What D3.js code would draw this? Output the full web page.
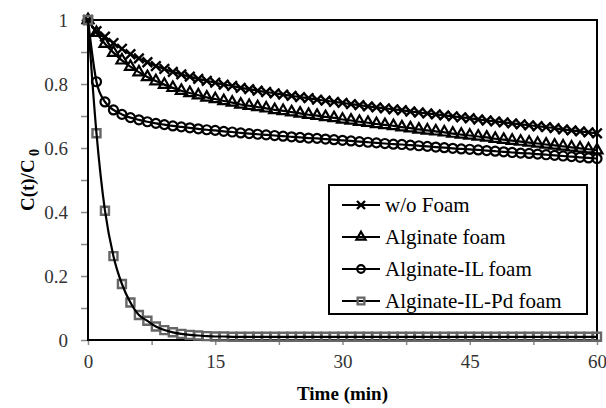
<!DOCTYPE html>
<html>
<head>
<meta charset="utf-8">
<script src="https://cdn.jsdelivr.net/npm/d3@7"></script>
<style>
  body { margin: 0; background: #fff; }
  svg { display: block; }
</style>
</head>
<body>
<div class="chart"></div>
<script>
// time in minutes, one reading per minute
var time = d3.range(0, 61);

var seriesNames = ["w/o Foam", "Alginate foam", "Alginate-IL foam", "Alginate-IL-Pd foam"];

var woFoam = [1.000, 0.965, 0.948, 0.928, 0.910, 0.893, 0.880, 0.868, 0.856, 0.847,
  0.838, 0.830, 0.823, 0.816, 0.810, 0.804, 0.798, 0.794, 0.788, 0.784,
  0.779, 0.775, 0.771, 0.767, 0.763, 0.759, 0.756, 0.751, 0.748, 0.744,
  0.741, 0.737, 0.734, 0.730, 0.727, 0.724, 0.721, 0.718, 0.714, 0.711,
  0.708, 0.705, 0.702, 0.699, 0.696, 0.693, 0.689, 0.686, 0.683, 0.680,
  0.677, 0.674, 0.671, 0.668, 0.665, 0.662, 0.658, 0.655, 0.652, 0.649, 0.646];

var alginate = [1.000, 0.960, 0.926, 0.898, 0.874, 0.854, 0.837, 0.822, 0.809, 0.798,
  0.788, 0.779, 0.772, 0.765, 0.758, 0.753, 0.747, 0.742, 0.736, 0.732,
  0.728, 0.724, 0.719, 0.716, 0.712, 0.708, 0.704, 0.701, 0.697, 0.694,
  0.689, 0.686, 0.682, 0.679, 0.675, 0.672, 0.669, 0.665, 0.662, 0.658,
  0.655, 0.652, 0.649, 0.645, 0.642, 0.639, 0.636, 0.633, 0.629, 0.626,
  0.623, 0.620, 0.617, 0.614, 0.611, 0.608, 0.605, 0.602, 0.599, 0.596, 0.593];

var alginateIL = [1.000, 0.807, 0.744, 0.719, 0.705, 0.695, 0.688, 0.682, 0.677, 0.673,
  0.669, 0.666, 0.663, 0.660, 0.657, 0.655, 0.652, 0.650, 0.647, 0.645,
  0.643, 0.641, 0.639, 0.637, 0.635, 0.633, 0.631, 0.630, 0.628, 0.626,
  0.624, 0.622, 0.620, 0.618, 0.616, 0.614, 0.612, 0.611, 0.609, 0.607,
  0.605, 0.603, 0.601, 0.599, 0.597, 0.596, 0.594, 0.592, 0.590, 0.588,
  0.586, 0.584, 0.583, 0.581, 0.579, 0.577, 0.575, 0.573, 0.571, 0.569, 0.567];

var alginateILPd = [1.000, 0.646, 0.404, 0.262, 0.175, 0.117, 0.078, 0.060, 0.042, 0.031,
  0.024, 0.019, 0.016, 0.014, 0.012, 0.011, 0.011, 0.010, 0.010, 0.010,
  0.010, 0.010, 0.010, 0.010, 0.010, 0.010, 0.010, 0.010, 0.010, 0.010,
  0.010, 0.010, 0.010, 0.010, 0.010, 0.010, 0.010, 0.010, 0.010, 0.010,
  0.010, 0.010, 0.010, 0.010, 0.010, 0.010, 0.010, 0.010, 0.010, 0.010,
  0.010, 0.010, 0.010, 0.010, 0.010, 0.010, 0.010, 0.010, 0.010, 0.010, 0.010];

var xTicks = [0, 7.5, 15, 22.5, 30, 37.5, 45, 52.5, 60];
var yTicks = [0, 0.1, 0.2, 0.3, 0.4, 0.5, 0.6, 0.7, 0.8, 0.9, 1];

var width = 606, height = 408;
var plotLeft = 88, plotRight = 597, plotTop = 20, plotBottom = 340;
var serif = "'Liberation Serif', 'Times New Roman', serif";

var svg = d3.select("div.chart")
  .append("svg")
  .attr("width", width)
  .attr("height", height);

var x = d3.scaleLinear().domain([0, 60]).range([plotLeft, plotRight]);
var y = d3.scaleLinear().domain([0, 1]).range([plotBottom, plotTop]);

// marker look per series
var styles = [
  { symbol: d3.symbolTimes, size: 62, stroke: "#000", width: 2.4 },
  { symbol: d3.symbolTriangle, size: 52, stroke: "#000", width: 2.2 },
  { symbol: d3.symbolCircle, size: 64, stroke: "#000", width: 2.2 },
  { symbol: d3.symbolSquare, size: 64, stroke: "#666", width: 2.4 }
];
var allSeries = [woFoam, alginate, alginateIL, alginateILPd];

// axes
var yAxis = svg.append("g")
  .attr("transform", "translate(" + plotLeft + ",0)")
  .call(d3.axisLeft(y).tickValues(yTicks).tickSize(7).tickPadding(13)
    .tickFormat(function(d) {
      var v = Math.round(d * 10);
      return v % 2 == 0 ? d3.format("~g")(v / 10) : "";
    }));
yAxis.select(".domain").remove();
yAxis.selectAll("line").attr("stroke", "#888").attr("stroke-width", 1.5);
yAxis.selectAll("text")
  .style("font-family", serif).style("font-size", "19px").attr("fill", "#333");

var xAxis = svg.append("g")
  .attr("transform", "translate(0," + plotBottom + ")")
  .call(d3.axisBottom(x).tickValues(xTicks).tickSize(5).tickPadding(10)
    .tickFormat(function(d) { return d % 15 == 0 ? d : ""; }));
xAxis.select(".domain").remove();
xAxis.selectAll("line").attr("stroke", "#888").attr("stroke-width", 1.5);
xAxis.selectAll("text")
  .style("font-family", serif).style("font-size", "19px").attr("fill", "#333");

// plot frame
svg.append("rect")
  .attr("x", plotLeft).attr("y", plotTop)
  .attr("width", plotRight - plotLeft).attr("height", plotBottom - plotTop)
  .attr("fill", "none").attr("stroke", "#000").attr("stroke-width", 2);

var line = d3.line()
  .x(function(d, i) { return x(time[i]); })
  .y(function(d) { return y(d); })
  .curve(d3.curveMonotoneX);

allSeries.forEach(function(values, k) {
  var s = styles[k];
  var g = svg.append("g").attr("class", "series");
  g.selectAll("path.mark")
    .data(values)
    .enter().append("path")
    .attr("class", "mark")
    .attr("transform", function(d, i) { return "translate(" + x(time[i]) + "," + y(d) + ")"; })
    .attr("d", d3.symbol().type(s.symbol).size(s.size))
    .attr("fill", "none")
    .attr("stroke", s.stroke)
    .attr("stroke-width", s.width);
  g.append("path")
    .datum(values)
    .attr("d", line)
    .attr("fill", "none")
    .attr("stroke", "#000")
    .attr("stroke-width", 2.2);
});

// legend
var legend = svg.append("g");
legend.append("rect")
  .attr("x", 329).attr("y", 185)
  .attr("width", 258).attr("height", 129)
  .attr("fill", "#fff").attr("stroke", "#000").attr("stroke-width", 2);

seriesNames.forEach(function(name, k) {
  var s = styles[k];
  var cy = 205 + k * 32;
  legend.append("line")
    .attr("x1", 342).attr("x2", 380)
    .attr("y1", cy).attr("y2", cy)
    .attr("stroke", "#000").attr("stroke-width", 2.2);
  legend.append("path")
    .attr("transform", "translate(361," + cy + ")")
    .attr("d", d3.symbol().type(s.symbol).size(s.size * 0.7))
    .attr("fill", "none")
    .attr("stroke", s.stroke)
    .attr("stroke-width", s.width);
  legend.append("text")
    .attr("x", 385).attr("y", cy + 7)
    .style("font-family", serif)
    .style("font-size", "21px")
    .attr("fill", "#000")
    .text(name);
});

// axis titles
svg.append("text")
  .attr("x", (plotLeft + plotRight) / 2).attr("y", 400)
  .attr("text-anchor", "middle")
  .style("font-family", serif).style("font-size", "19px").style("font-weight", "bold")
  .text("Time (min)");

var yTitle = svg.append("text")
  .attr("transform", "translate(34," + ((plotTop + plotBottom) / 2) + ") rotate(-90)")
  .attr("text-anchor", "middle")
  .style("font-family", serif).style("font-size", "19px").style("font-weight", "bold");
yTitle.append("tspan").text("C(t)/C");
yTitle.append("tspan").attr("dy", 5).style("font-size", "14px").text(" 0");
</script>
</body>
</html>
